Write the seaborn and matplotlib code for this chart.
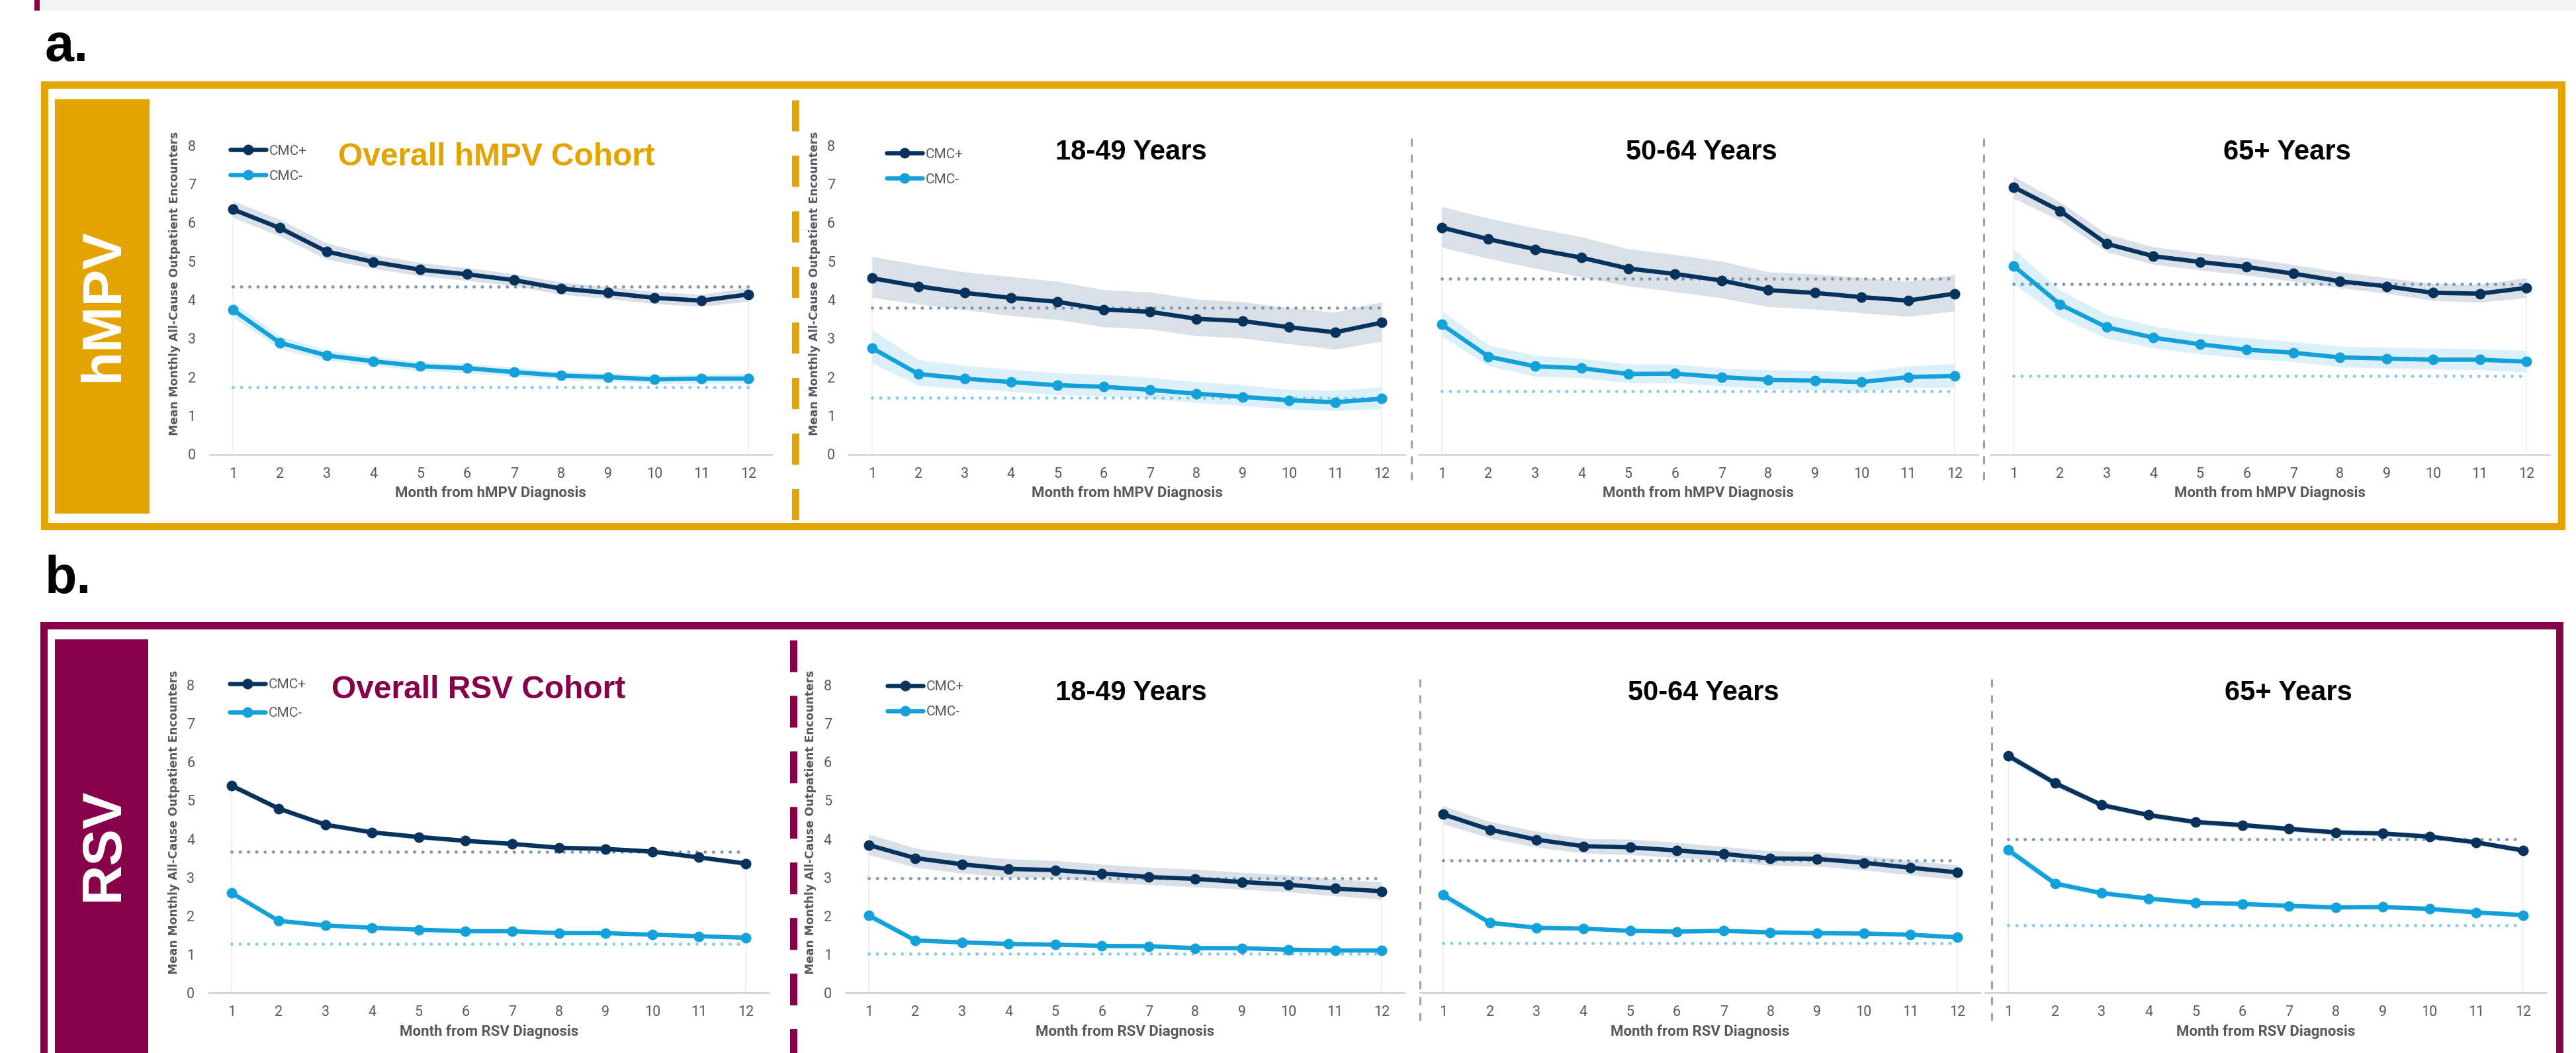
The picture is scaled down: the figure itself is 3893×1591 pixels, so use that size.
import matplotlib
matplotlib.use("Agg")
import matplotlib.pyplot as plt
import seaborn as sns
from matplotlib.lines import Line2D
from matplotlib.patches import Rectangle

# ---------------- data ----------------
months = list(range(1, 13))
month_labels = [str(m) for m in months]
y_ticks = [0, 1, 2, 3, 4, 5, 6, 7, 8]
series_names = ["CMC+", "CMC-"]
age_titles = ["18-49 Years", "50-64 Years", "65+ Years"]
ylabel_text = "Mean Monthly All-Cause Outpatient Encounters"

# hMPV overall
hmpv_all_pos = [6.34, 5.86, 5.25, 4.98, 4.78, 4.66, 4.51, 4.29, 4.18, 4.05, 3.98, 4.14]
hmpv_all_pos_lo = [6.13, 5.65, 5.05, 4.81, 4.62, 4.50, 4.36, 4.14, 4.03, 3.90, 3.83, 3.96]
hmpv_all_pos_hi = [6.56, 6.08, 5.47, 5.17, 4.96, 4.83, 4.67, 4.46, 4.34, 4.21, 4.14, 4.32]
hmpv_all_neg = [3.74, 2.89, 2.56, 2.41, 2.28, 2.23, 2.13, 2.04, 2.00, 1.94, 1.96, 1.96]
hmpv_all_neg_lo = [3.55, 2.73, 2.43, 2.29, 2.16, 2.11, 2.02, 1.93, 1.89, 1.83, 1.84, 1.84]
hmpv_all_neg_hi = [3.94, 3.06, 2.70, 2.54, 2.40, 2.35, 2.25, 2.15, 2.11, 2.05, 2.08, 2.09]
hmpv_all_ref = [4.34, 1.74]

# hMPV 18-49
hmpv_1849_pos = [4.56, 4.35, 4.18, 4.05, 3.95, 3.75, 3.69, 3.51, 3.45, 3.29, 3.16, 3.41]
hmpv_1849_pos_lo = [4.06, 3.89, 3.74, 3.59, 3.49, 3.30, 3.24, 3.07, 3.01, 2.86, 2.72, 2.93]
hmpv_1849_pos_hi = [5.12, 4.91, 4.72, 4.60, 4.48, 4.26, 4.20, 4.02, 3.95, 3.79, 3.68, 3.95]
hmpv_1849_neg = [2.75, 2.08, 1.96, 1.87, 1.79, 1.75, 1.67, 1.57, 1.49, 1.40, 1.35, 1.44]
hmpv_1849_neg_lo = [2.36, 1.78, 1.70, 1.63, 1.54, 1.51, 1.44, 1.34, 1.26, 1.17, 1.13, 1.18]
hmpv_1849_neg_hi = [3.22, 2.45, 2.30, 2.20, 2.11, 2.07, 1.99, 1.88, 1.80, 1.68, 1.66, 1.74]
hmpv_1849_ref = [3.79, 1.46]

# hMPV 50-64
hmpv_5064_pos = [5.87, 5.57, 5.31, 5.09, 4.81, 4.67, 4.50, 4.25, 4.18, 4.07, 3.98, 4.16]
hmpv_5064_pos_lo = [5.36, 5.07, 4.82, 4.59, 4.36, 4.21, 4.05, 3.82, 3.76, 3.66, 3.57, 3.71]
hmpv_5064_pos_hi = [6.41, 6.11, 5.86, 5.63, 5.32, 5.17, 5.00, 4.72, 4.67, 4.57, 4.48, 4.65]
hmpv_5064_neg = [3.36, 2.53, 2.28, 2.23, 2.08, 2.09, 2.00, 1.93, 1.91, 1.87, 2.00, 2.03]
hmpv_5064_neg_lo = [3.06, 2.29, 2.02, 1.98, 1.85, 1.85, 1.77, 1.70, 1.67, 1.64, 1.73, 1.73]
hmpv_5064_neg_hi = [3.71, 2.83, 2.56, 2.48, 2.34, 2.34, 2.23, 2.19, 2.17, 2.13, 2.29, 2.34]
hmpv_5064_ref = [4.54, 1.64]

# hMPV 65+
hmpv_65_pos = [6.92, 6.30, 5.45, 5.13, 4.98, 4.85, 4.68, 4.48, 4.35, 4.18, 4.16, 4.31]
hmpv_65_pos_lo = [6.63, 6.05, 5.24, 4.92, 4.77, 4.64, 4.48, 4.31, 4.17, 3.98, 3.94, 4.05]
hmpv_65_pos_hi = [7.20, 6.53, 5.70, 5.37, 5.21, 5.09, 4.91, 4.72, 4.57, 4.42, 4.40, 4.57]
hmpv_65_neg = [4.88, 3.88, 3.29, 3.02, 2.85, 2.71, 2.63, 2.51, 2.48, 2.45, 2.45, 2.40]
hmpv_65_neg_lo = [4.40, 3.55, 3.00, 2.75, 2.60, 2.48, 2.40, 2.26, 2.23, 2.21, 2.19, 2.13]
hmpv_65_neg_hi = [5.31, 4.25, 3.62, 3.32, 3.13, 3.02, 2.92, 2.80, 2.77, 2.75, 2.73, 2.69]
hmpv_65_ref = [4.41, 2.03]

# RSV overall
rsv_all_pos = [5.38, 4.79, 4.37, 4.17, 4.05, 3.95, 3.87, 3.77, 3.74, 3.67, 3.52, 3.36]
rsv_all_pos_lo = [5.30, 4.72, 4.31, 4.11, 3.99, 3.89, 3.81, 3.71, 3.68, 3.61, 3.46, 3.29]
rsv_all_pos_hi = [5.46, 4.86, 4.43, 4.23, 4.11, 4.01, 3.93, 3.83, 3.80, 3.73, 3.58, 3.43]
rsv_all_neg = [2.59, 1.87, 1.75, 1.69, 1.64, 1.60, 1.60, 1.55, 1.55, 1.51, 1.47, 1.43]
rsv_all_neg_lo = [2.53, 1.83, 1.71, 1.66, 1.61, 1.57, 1.57, 1.52, 1.52, 1.48, 1.44, 1.40]
rsv_all_neg_hi = [2.65, 1.91, 1.79, 1.72, 1.67, 1.63, 1.63, 1.58, 1.58, 1.54, 1.50, 1.46]
rsv_all_ref = [3.67, 1.28]

# RSV 18-49
rsv_1849_pos = [3.84, 3.50, 3.34, 3.22, 3.19, 3.10, 3.01, 2.96, 2.88, 2.81, 2.71, 2.64]
rsv_1849_pos_lo = [3.59, 3.26, 3.11, 3.00, 2.98, 2.88, 2.81, 2.75, 2.69, 2.62, 2.52, 2.43]
rsv_1849_pos_hi = [4.12, 3.76, 3.59, 3.48, 3.44, 3.34, 3.26, 3.21, 3.13, 3.06, 2.96, 2.88]
rsv_1849_neg = [2.01, 1.36, 1.31, 1.27, 1.25, 1.22, 1.21, 1.16, 1.16, 1.12, 1.10, 1.10]
rsv_1849_neg_lo = [1.90, 1.31, 1.27, 1.23, 1.21, 1.18, 1.17, 1.12, 1.12, 1.08, 1.06, 1.05]
rsv_1849_neg_hi = [2.11, 1.41, 1.36, 1.31, 1.29, 1.26, 1.25, 1.20, 1.20, 1.16, 1.14, 1.14]
rsv_1849_ref = [2.98, 1.02]

# RSV 50-64
rsv_5064_pos = [4.64, 4.24, 3.98, 3.81, 3.78, 3.70, 3.61, 3.49, 3.48, 3.38, 3.25, 3.13]
rsv_5064_pos_lo = [4.39, 4.02, 3.78, 3.63, 3.59, 3.51, 3.44, 3.31, 3.29, 3.19, 3.06, 2.94]
rsv_5064_pos_hi = [4.86, 4.45, 4.20, 4.01, 3.99, 3.91, 3.80, 3.69, 3.67, 3.57, 3.44, 3.32]
rsv_5064_neg = [2.54, 1.82, 1.69, 1.67, 1.61, 1.59, 1.61, 1.57, 1.55, 1.54, 1.51, 1.44]
rsv_5064_neg_lo = [2.41, 1.76, 1.64, 1.62, 1.56, 1.54, 1.56, 1.52, 1.50, 1.49, 1.46, 1.39]
rsv_5064_neg_hi = [2.64, 1.88, 1.74, 1.72, 1.66, 1.64, 1.66, 1.62, 1.60, 1.59, 1.56, 1.49]
rsv_5064_ref = [3.44, 1.29]

# RSV 65+
rsv_65_pos = [6.16, 5.45, 4.88, 4.62, 4.44, 4.36, 4.26, 4.17, 4.14, 4.06, 3.91, 3.70]
rsv_65_pos_lo = [6.06, 5.36, 4.80, 4.55, 4.37, 4.29, 4.19, 4.10, 4.07, 3.99, 3.84, 3.62]
rsv_65_pos_hi = [6.26, 5.54, 4.96, 4.69, 4.51, 4.43, 4.33, 4.24, 4.21, 4.13, 3.98, 3.78]
rsv_65_neg = [3.71, 2.84, 2.59, 2.45, 2.34, 2.31, 2.26, 2.22, 2.23, 2.18, 2.09, 2.02]
rsv_65_neg_lo = [3.58, 2.76, 2.52, 2.39, 2.28, 2.25, 2.20, 2.16, 2.17, 2.12, 2.03, 1.96]
rsv_65_neg_hi = [3.84, 2.92, 2.66, 2.51, 2.40, 2.37, 2.32, 2.28, 2.29, 2.24, 2.15, 2.08]
rsv_65_ref = [3.99, 1.75]

# ---------------- style ----------------
sns.set_theme(style="white")
plt.rcParams["font.family"] = ["Roboto", "DejaVu Sans"]

ORANGE = "#E5A300"
MAROON = "#86004A"
POS = "#06325C"
NEG = "#14A0D8"
POS_BAND = "#DAE0E7"
NEG_BAND = "#DBF0F8"
POS_REF = "#8299AF"
NEG_REF = "#86CDEB"
GRAY_TXT = "#595959"

W, H = 3893, 1591
fig = plt.figure(figsize=(W / 100, H / 100), dpi=100)
fig.patch.set_facecolor("white")


def fx(px):
    return px / W


def fy(py):
    return 1 - py / H


def pt(px):
    return px * 0.72


def frect(x0, y0, x1, y1, **kw):
    r = Rectangle((fx(x0), fy(y1)), (x1 - x0) / W, (y1 - y0) / H,
                  transform=fig.transFigure, **kw)
    fig.add_artist(r)


def fline(x, y0, y1, **kw):
    fig.add_artist(Line2D([fx(x), fx(x)], [fy(y0), fy(y1)],
                          transform=fig.transFigure, **kw))


# top gray strip
frect(52, 0, W, 16, facecolor="#F2F2F2", edgecolor="none", zorder=0)
frect(52, 0, 60, 16, facecolor=MAROON, edgecolor="none", zorder=0)

# frames
frect(66.5, 127.5, 3870.5, 794.5, fill=False, edgecolor=ORANGE, linewidth=pt(11), zorder=0)
frect(65.5, 944.5, 3867.5, 1750, fill=False, edgecolor=MAROON, linewidth=pt(11), zorder=0)

# side label boxes
frect(83, 150, 226, 776, facecolor=ORANGE, edgecolor="none", zorder=0)
frect(83, 966, 224, 1700, facecolor=MAROON, edgecolor="none", zorder=0)
fig.text(fx(156), fy(461), "hMPV", rotation=90, ha="center", va="center", color="white",
         fontsize=60, fontweight="bold", family="Liberation Sans")
fig.text(fx(156), fy(1276), "RSV", rotation=90, ha="center", va="center", color="white",
         fontsize=60, fontweight="bold", family="Liberation Sans")

# section letters
fig.text(fx(68), fy(92), "a.", ha="left", va="baseline", fontsize=57, fontweight="bold",
         family="Liberation Sans", color="black")
fig.text(fx(68), fy(896), "b.", ha="left", va="baseline", fontsize=57, fontweight="bold",
         family="Liberation Sans", color="black")

# dashed separators
fline(1201.5, 151, 787, color=ORANGE, linewidth=pt(11), dashes=(4.27, 3.36))
fline(1198.5, 967, 1640, color=MAROON, linewidth=pt(11), dashes=(4.36, 3.27))
for xx in (2133, 2998):
    fline(xx, 209, 734, color="#A0A0A0", linewidth=pt(3), dashes=(4, 4))
for xx in (2146, 3010):
    fline(xx, 1026, 1548, color="#A0A0A0", linewidth=pt(3), dashes=(4, 4))


def add_ax(x1, x12, ytop, ybot):
    s = (x12 - x1) / 11
    left, right = x1 - 0.5 * s, x12 + 0.5 * s
    ax = fig.add_axes([fx(left), fy(ybot), (right - left) / W, (ybot - ytop) / H])
    ax.set_xlim(0.5, 12.5)
    ax.set_ylim(0, 8)
    return ax


def draw_panel(ax, pos, pos_lo, pos_hi, neg, neg_lo, neg_hi, ref, show_y, xlabel):
    ax.set_facecolor("none")
    ax.grid(False)
    # faint area edges at the first and last month
    ax.vlines([months[0], months[-1]], 0, [pos_hi[0], pos_hi[-1]], color="#EEF1F4",
              linewidth=pt(2), zorder=0.5)
    ax.fill_between(months, pos_lo, pos_hi, color=POS_BAND, linewidth=0, zorder=1)
    ax.fill_between(months, neg_lo, neg_hi, color=NEG_BAND, linewidth=0, zorder=1)
    ax.plot([months[0], months[-1]], [ref[0], ref[0]], color=POS_REF, linewidth=pt(5),
            linestyle=(0, (0.01, 2.5)), dash_capstyle="round", zorder=2)
    ax.plot([months[0], months[-1]], [ref[1], ref[1]], color=NEG_REF, linewidth=pt(5),
            linestyle=(0, (0.01, 2.5)), dash_capstyle="round", zorder=2)
    sns.lineplot(x=months, y=neg, ax=ax, color=NEG, linewidth=pt(6.5), marker="o",
                 markersize=pt(16), markeredgewidth=0, zorder=3)
    sns.lineplot(x=months, y=pos, ax=ax, color=POS, linewidth=pt(6.5), marker="o",
                 markersize=pt(16), markeredgewidth=0, zorder=4)
    for s in ("top", "right", "left"):
        ax.spines[s].set_visible(False)
    ax.spines["bottom"].set_color("#D9D9D9")
    ax.spines["bottom"].set_linewidth(pt(3))
    ax.set_xticks(months)
    ax.set_xticklabels(month_labels)
    if show_y:
        ax.set_yticks(y_ticks)
        ax.set_yticklabels([str(t) for t in y_ticks])
    else:
        ax.set_yticks([])
    ax.tick_params(axis="x", length=0, pad=14, labelsize=15.5, labelcolor=GRAY_TXT)
    ax.tick_params(axis="y", length=0, pad=15, labelsize=15.5, labelcolor=GRAY_TXT)
    ax.set_xlabel("")
    ax.set_ylabel("")
    ax.text(0.5, -0.126, xlabel, transform=ax.transAxes, ha="center", va="center",
            fontsize=16, fontweight="bold", color=GRAY_TXT)
    if show_y:
        ax.text(-0.062, 0.553, ylabel_text, transform=ax.transAxes, rotation=90,
                ha="center", va="center", fontsize=12.3, fontweight="bold",
                color=GRAY_TXT, family="DejaVu Sans")


def add_legend(ax, x, y, spacing):
    handles = [
        Line2D([], [], color=POS, linewidth=pt(6.5), marker="o", markersize=pt(16), markeredgewidth=0),
        Line2D([], [], color=NEG, linewidth=pt(6.5), marker="o", markersize=pt(16), markeredgewidth=0),
    ]
    ax.legend(handles, series_names, loc="upper left", bbox_to_anchor=(x, y), frameon=False,
              handlelength=2.6, handletextpad=0.2, labelspacing=spacing, borderpad=0,
              borderaxespad=0, fontsize=15, labelcolor=GRAY_TXT)


TOP_Y8, TOP_Y0 = 219.5, 686.5
BOT_Y8, BOT_Y0 = 1035, 1500

hx = "Month from hMPV Diagnosis"
rx = "Month from RSV Diagnosis"

# ---- hMPV row ----
axA = add_ax(352, 1131, TOP_Y8, TOP_Y0)
draw_panel(axA, hmpv_all_pos, hmpv_all_pos_lo, hmpv_all_pos_hi,
           hmpv_all_neg, hmpv_all_neg_lo, hmpv_all_neg_hi, hmpv_all_ref, True, hx)
add_legend(axA, 0.037, 1.002, 0.91)
axA.text(0.229, 0.962, "Overall hMPV Cohort", transform=axA.transAxes, ha="left", va="center",
         fontsize=34.5, fontweight="bold", color=ORANGE, family="Liberation Sans")

axB = add_ax(1318, 2088, TOP_Y8, TOP_Y0)
draw_panel(axB, hmpv_1849_pos, hmpv_1849_pos_lo, hmpv_1849_pos_hi,
           hmpv_1849_neg, hmpv_1849_neg_lo, hmpv_1849_neg_hi, hmpv_1849_ref, True, hx)
add_legend(axB, 0.068, 0.991, 0.91)

axC = add_ax(2179, 2954, TOP_Y8, TOP_Y0)
draw_panel(axC, hmpv_5064_pos, hmpv_5064_pos_lo, hmpv_5064_pos_hi,
           hmpv_5064_neg, hmpv_5064_neg_lo, hmpv_5064_neg_hi, hmpv_5064_ref, False, hx)

axD = add_ax(3043, 3818, TOP_Y8, TOP_Y0)
draw_panel(axD, hmpv_65_pos, hmpv_65_pos_lo, hmpv_65_pos_hi,
           hmpv_65_neg, hmpv_65_neg_lo, hmpv_65_neg_hi, hmpv_65_ref, False, hx)

for ax, xc, t in zip((axB, axC, axD), (0.508, 0.506, 0.531), age_titles):
    ax.text(xc, 0.978, t, transform=ax.transAxes, ha="center", va="center",
            fontsize=30, fontweight="bold", color="black", family="Liberation Sans")

# ---- RSV row ----
axE = add_ax(350.5, 1127, BOT_Y8, BOT_Y0)
draw_panel(axE, rsv_all_pos, rsv_all_pos_lo, rsv_all_pos_hi,
           rsv_all_neg, rsv_all_neg_lo, rsv_all_neg_hi, rsv_all_ref, True, rx)
add_legend(axE, 0.0375, 1.021, 1.15)
axE.text(0.219, 0.983, "Overall RSV Cohort", transform=axE.transAxes, ha="left", va="center",
         fontsize=34.5, fontweight="bold", color=MAROON, family="Liberation Sans")

axF = add_ax(1313, 2088, BOT_Y8, BOT_Y0)
draw_panel(axF, rsv_1849_pos, rsv_1849_pos_lo, rsv_1849_pos_hi,
           rsv_1849_neg, rsv_1849_neg_lo, rsv_1849_neg_hi, rsv_1849_ref, True, rx)
add_legend(axF, 0.075, 1.015, 0.91)

axG = add_ax(2181, 2958, BOT_Y8, BOT_Y0)
draw_panel(axG, rsv_5064_pos, rsv_5064_pos_lo, rsv_5064_pos_hi,
           rsv_5064_neg, rsv_5064_neg_lo, rsv_5064_neg_hi, rsv_5064_ref, False, rx)

axH = add_ax(3035, 3813, BOT_Y8, BOT_Y0)
draw_panel(axH, rsv_65_pos, rsv_65_pos_lo, rsv_65_pos_hi,
           rsv_65_neg, rsv_65_neg_lo, rsv_65_neg_hi, rsv_65_ref, False, rx)

for ax, xc, t in zip((axF, axG, axH), (0.510, 0.506, 0.540), age_titles):
    ax.text(xc, 0.975, t, transform=ax.transAxes, ha="center", va="center",
            fontsize=30, fontweight="bold", color="black", family="Liberation Sans")

fig.savefig("out.png", dpi=100, facecolor="white")
